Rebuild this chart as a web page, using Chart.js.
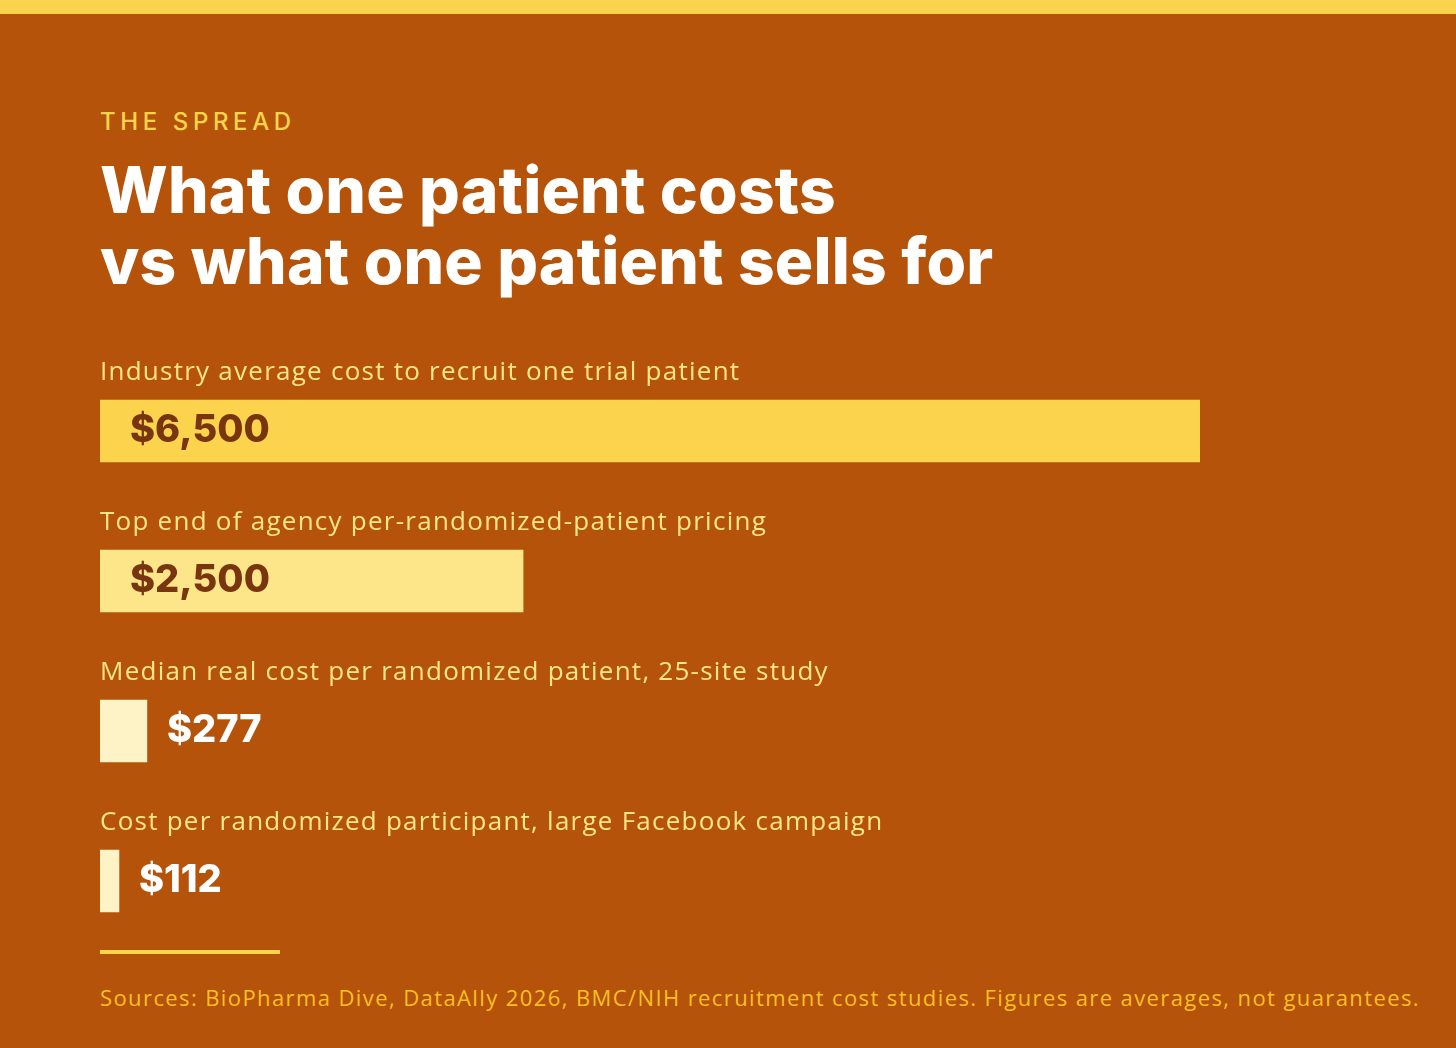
<!DOCTYPE html>
<html>
<head>
<meta charset="utf-8">
<script src="https://cdn.jsdelivr.net/npm/chart.js@4.4.1/dist/chart.umd.min.js"></script>
<style>
  html, body { margin: 0; padding: 0; }
  body {
    width: 1456px; height: 1048px; overflow: hidden;
    background: #B45309;
    font-family: "Open Sans", sans-serif;
    position: relative;
  }
  .strip { position: absolute; left: 0; top: 0; width: 1456px; height: 14px; background: #FCD34D; }
  .kicker {
    position: absolute; left: 100px; top: 107px;
    font-family: Inter, sans-serif; font-size: 24px; font-weight: 500;
    letter-spacing: 4.6px; color: #FCD34D;
  }
  h1 {
    position: absolute; left: 100px; top: 154px; margin: 0;
    font-family: Inter, sans-serif; font-size: 64px; font-weight: 800;
    line-height: 71px; color: #FFFFFF; letter-spacing: 0.2px;
  }
  #wrap { position: absolute; left: 100px; top: 356px; width: 1100px; height: 600px; }
  .rule { position: absolute; left: 100px; top: 950px; width: 180px; height: 4px; background: #FCD34D; }
  .sources {
    position: absolute; left: 100px; top: 982px;
    font-size: 22px; letter-spacing: 1.4px; color: #FBBF24;
    white-space: nowrap;
  }
</style>
</head>
<body>
<div class="strip"></div>
<div class="kicker">THE SPREAD</div>
<h1>What one patient costs<br>vs what one patient sells for</h1>
<div id="wrap"><canvas id="spreadChart"></canvas></div>
<div class="rule"></div>
<div class="sources">Sources: BioPharma Dive, DataAlly 2026, BMC/NIH recruitment cost studies. Figures are averages, not guarantees.</div>

<script>
// Cost per patient figures
const categories = [
    "Industry average cost to recruit one trial patient",
    "Top end of agency per-randomized-patient pricing",
    "Median real cost per randomized patient, 25-site study",
    "Cost per randomized participant, large Facebook campaign"
];

const costValues = [6500, 2500, 277, 112];

const barColors = ["#FCD34D", "#FDE68A", "#FEF3C7", "#FEF3C7"];


// Draws the caption above each bar and the dollar value on / next to it
const barLabels = {
    id: "barLabels",
    afterDatasetsDraw(chart) {
        const ctx = chart.ctx;
        const meta = chart.getDatasetMeta(0);
        ctx.save();
        meta.data.forEach((bar, i) => {
            const top = bar.y - bar.height / 2;

            ctx.font = "400 26px 'Open Sans'";
            ctx.letterSpacing = "1.25px";
            ctx.fillStyle = "#FDE68A";
            ctx.textAlign = "left";
            ctx.textBaseline = "alphabetic";
            ctx.fillText(categories[i], bar.base, top - 20);

            const txt = "$" + costValues[i].toLocaleString("en-US");
            ctx.font = "800 38px Inter";
            ctx.letterSpacing = "0px";
            ctx.textBaseline = "middle";
            const width = bar.x - bar.base;
            if (width > 200) {
                ctx.fillStyle = "#78350F";
                ctx.fillText(txt, bar.base + 30, bar.y);
            } else {
                ctx.fillStyle = "#FFFFFF";
                ctx.fillText(txt, bar.x + 20, bar.y);
            }
        });
        ctx.restore();
    }
};

new Chart(document.getElementById("spreadChart"), {
    type: "bar",
    data: {
        labels: categories,
        datasets: [{
            data: costValues,
            backgroundColor: barColors,
            borderWidth: 0,
            borderSkipped: false,
            barThickness: 62
        }]
    },
    options: {
        indexAxis: "y",
        responsive: true,
        maintainAspectRatio: false,
        animation: false,
        layout: { padding: 0 },
        plugins: {
            legend: { display: false },
            tooltip: { enabled: false }
        },
        scales: {
            x: { display: false, min: 0, max: 6500 },
            y: { display: false }
        }
    },
    plugins: [barLabels]
});
</script>
</body>
</html>
